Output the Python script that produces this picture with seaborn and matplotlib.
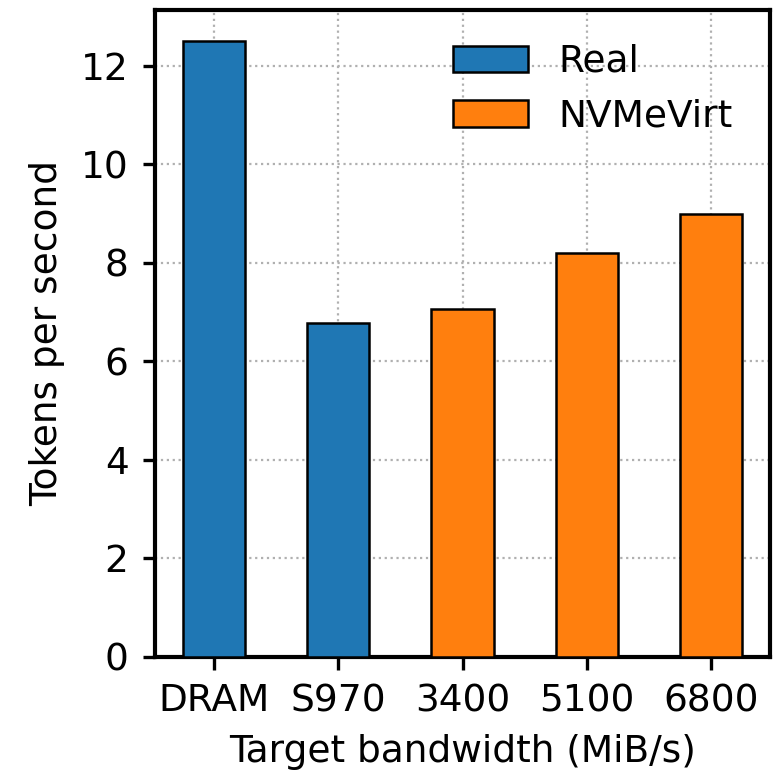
import matplotlib
matplotlib.use("Agg")
import matplotlib.pyplot as plt
import seaborn as sns
import pandas as pd
from matplotlib.patches import Patch

categories = ["DRAM", "S970", "3400", "5100", "6800"]
tokens_per_sec = [12.5, 6.78, 7.05, 8.2, 8.98]
source = ["Real", "Real", "NVMeVirt", "NVMeVirt", "NVMeVirt"]

df = pd.DataFrame({"target": categories, "tps": tokens_per_sec, "source": source})

sns.set_style("ticks")
plt.rcParams["font.family"] = ["DejaVu Sans"]
plt.rcParams["font.size"] = 13.5
plt.rcParams["text.color"] = "black"
plt.rcParams["axes.labelcolor"] = "black"

palette = {"Real": "#1f77b4", "NVMeVirt": "#ff7f0e"}

fig = plt.figure(figsize=(3.91, 3.89), dpi=200)
ax = fig.add_axes([0.198, 0.156, 0.787, 0.831])

sns.barplot(data=df, x="target", y="tps", hue="source", palette=palette,
            dodge=False, width=0.5, edgecolor="black", linewidth=0.9,
            saturation=1, legend=False, ax=ax, zorder=3)

ax.set_xlim(-0.475, 4.475)
ax.set_ylim(0, 13.125)
ax.set_yticks([0, 2, 4, 6, 8, 10, 12])
ax.grid(True, linestyle=":", color="#b0b0b0", linewidth=0.8, zorder=0)
ax.set_axisbelow(True)
for s in ax.spines.values():
    s.set_linewidth(1.5)
    s.set_color("black")
ax.tick_params(axis="both", labelsize=13.5, width=1.2, length=4.5, pad=5,
               colors="black")

ax.set_xlabel("Target bandwidth (MiB/s)", fontsize=13.5, color="black", labelpad=5.5)
ax.set_ylabel("Tokens per second", fontsize=13.5, color="black", labelpad=5.5)

handles = [Patch(facecolor=palette["Real"], edgecolor="black", linewidth=0.9, label="Real"),
           Patch(facecolor=palette["NVMeVirt"], edgecolor="black", linewidth=0.9, label="NVMeVirt")]
ax.legend(handles=handles, loc="upper right", frameon=False, fontsize=13.5,
          bbox_to_anchor=(0.993, 1.0))

fig.savefig("out.png", dpi=200)
